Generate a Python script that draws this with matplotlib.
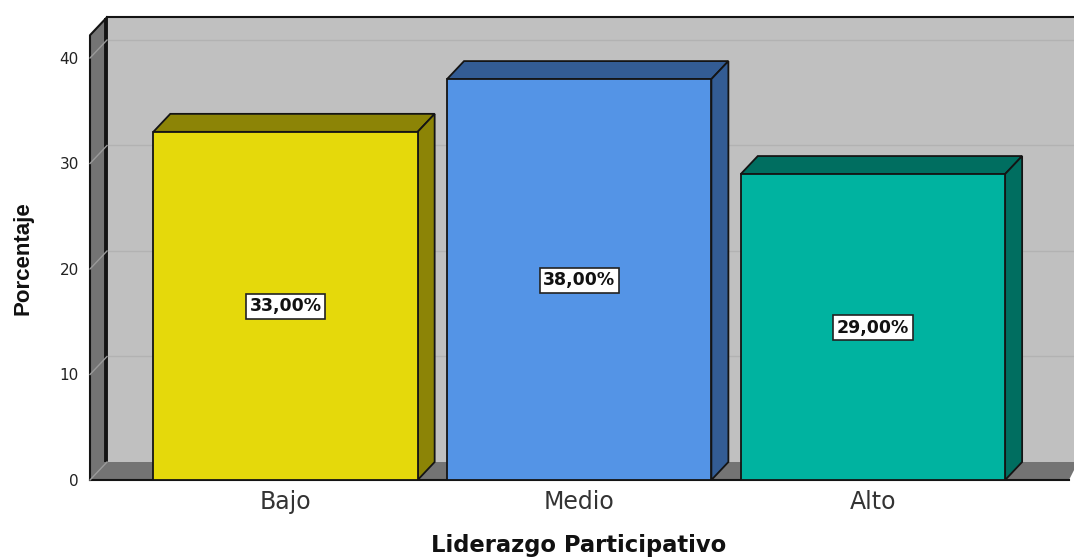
import matplotlib
matplotlib.use("Agg")
import matplotlib.pyplot as plt
from matplotlib.patches import Polygon, Rectangle

plt.rcParams["font.family"] = "DejaVu Sans"

categories = ["Bajo", "Medio", "Alto"]
values = [33, 38, 29]
value_labels = ["33,00%", "38,00%", "29,00%"]
y_ticks = [0, 10, 20, 30, 40]

front_colors = ["#e5d90b", "#5494e6", "#00b3a0"]
top_colors = ["#8c8406", "#335c94", "#006e60"]
side_colors = ["#8c8406", "#335c94", "#006e60"]

WALL = "#c0c0c0"
FLOOR = "#747474"
GRID = "#b2b2b2"
EDGE = "#141414"

W, H = 1074, 557
left, bottom, top = 90, 480, 35

fig = plt.figure(figsize=(W / 100, H / 100), dpi=100, facecolor="white")
ax = fig.add_axes([left / W, (H - bottom) / H, (W - left) / W, (bottom - top) / H])
ax.set_xlim(-0.6655, 2.6845)
ax.set_ylim(0, 42.18)
ax.patch.set_visible(False)
for s in ax.spines.values():
    s.set_visible(False)

xmin, xmax = ax.get_xlim()
ymax = ax.get_ylim()[1]
dx = 17 / 293.8
dy = 18 / 10.55
bar_w = 0.9

# back wall, floor and left wall
ax.add_patch(Rectangle((xmin + dx, dy), xmax - xmin, ymax, fc=WALL, ec="none", clip_on=False, zorder=1))
for t in y_ticks[1:]:
    ax.plot([xmin + dx, xmax + dx], [t + dy] * 2, color=GRID, lw=1.0, clip_on=False, zorder=1.2)
ax.add_patch(Polygon([(xmin, 0), (xmax - 0.017, 0), (xmax, dy * 0.55), (xmax, dy), (xmin + dx, dy)],
                     fc=FLOOR, ec="none", clip_on=False, zorder=1.5))
ax.add_patch(Polygon([(xmin, 0), (xmin + dx, dy), (xmin + dx, ymax + dy - 0.02), (xmin, ymax - 0.02)],
                     fc=FLOOR, ec="none", clip_on=False, zorder=2))
ax.plot([xmin, xmin, xmin + dx], [0, ymax - 0.02, ymax + dy - 0.02], color=EDGE, lw=1.5,
        clip_on=False, zorder=2.2)
ax.plot([xmin + dx - 0.004] * 2, [dy, ymax + dy - 0.1], color=EDGE, lw=2.8, solid_capstyle="butt",
        clip_on=False, zorder=2.2)
ax.plot([xmin + dx, xmax + dx], [ymax + dy - 0.02] * 2, color=EDGE, lw=1.5, clip_on=False, zorder=2.2)
ax.plot([xmin, xmax - 0.017], [0, 0], color=EDGE, lw=1.5, clip_on=False, zorder=2.2)
for t in y_ticks:
    ax.plot([xmin, xmin + dx], [t, t + dy], color="#9a9a9a", lw=1.0, clip_on=False, zorder=2.5)

# bars
for i, v in enumerate(values):
    x0, x1 = i - bar_w / 2, i + bar_w / 2
    ax.add_patch(Polygon([(x0, v), (x0 + dx, v + dy), (x1 + dx, v + dy), (x1, v)],
                         fc=top_colors[i], ec=EDGE, lw=1.3, clip_on=False, zorder=3))
    ax.add_patch(Polygon([(x1, 0), (x1 + dx, dy), (x1 + dx, v + dy), (x1, v)],
                         fc=side_colors[i], ec=EDGE, lw=1.3, clip_on=False, zorder=3))
    ax.add_patch(Rectangle((x0, 0), bar_w, v, fc=front_colors[i], ec=EDGE, lw=1.3, clip_on=False, zorder=4))
    ax.text(i, v / 2 - 0.05, value_labels[i], ha="center", va="center", fontsize=12.5, fontweight="bold",
            color="#111111", zorder=5,
            bbox=dict(boxstyle="square,pad=0.2", fc="white", ec="#222222", lw=1.2))

ax.set_xticks(range(len(categories)), categories)
ax.set_yticks(y_ticks)
ax.tick_params(axis="x", length=0, pad=7, labelsize=17, labelcolor="#333333")
ax.tick_params(axis="y", length=0, pad=8, labelsize=11, labelcolor="#222222")

ax.set_xlabel("Liderazgo Participativo", fontsize=16.3, fontweight="bold", color="#111111", labelpad=0)
ax.xaxis.set_label_coords((579 - left) / (W - left), -54 / (bottom - top))
fig.text(23 / W, 1 - 258 / H, "Porcentaje", rotation=90, ha="center", va="center", fontsize=16,
         fontweight="bold", family="Liberation Sans", color="#111111")

fig.savefig("out.png", dpi=100)
